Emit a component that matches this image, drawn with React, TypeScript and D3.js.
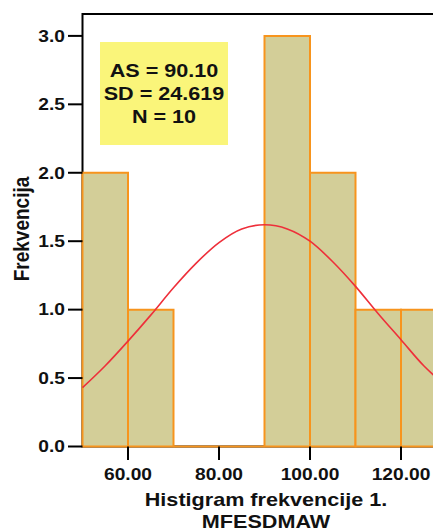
import React from "react";
import * as d3 from "d3";

// histogram bins (lower edges, width 10) and counts
const binStarts = [50, 60, 70, 80, 90, 100, 110, 120];
const binWidth = 10;
const counts = [2, 1, 0, 0, 3, 2, 1, 1];

// fitted normal curve
const curveX = [50, 55, 60, 65, 70, 75, 80, 85, 90, 95, 100, 105, 110, 115, 120, 125, 130, 135, 140];
const curveY = [0.43, 0.59, 0.77, 0.96, 1.16, 1.34, 1.49, 1.59, 1.62, 1.59, 1.5, 1.35, 1.17, 0.97, 0.78, 0.59, 0.44, 0.31, 0.21];

const yTicks = [0, 0.5, 1, 1.5, 2, 2.5, 3];
const xTicks = [60, 80, 100, 120];
const statLines = ["AS = 90.10", "SD = 24.619", "N = 10"];

const W = 433;
const H = 531;
const SX = 1.2; // the original's type is stretched sideways
const font = "'Liberation Sans', Arial, sans-serif";

const App = () => {
  const x = d3.scaleLinear().domain([50, 130]).range([82.5, 446.5]);
  const y = d3.scaleLinear().domain([0, 3.16]).range([446.5, 14]);

  const line = d3
    .line<number>()
    .x((d, i) => x(curveX[i]))
    .y((d) => y(d))
    .curve(d3.curveMonotoneX);

  const barPath = (start: number, c: number) => {
    const p = d3.path();
    p.moveTo(x(start), y(0));
    p.lineTo(x(start), y(c));
    p.lineTo(x(start + binWidth), y(c));
    p.lineTo(x(start + binWidth), y(0));
    p.closePath();
    return p.toString();
  };

  return (
    <div>
      <svg
        width={W}
        height={H}
        style={{ position: "absolute", left: 0, top: 0, background: "#fff" }}
        fontFamily={font}
        fontWeight="bold"
      >
        {/* plot frame */}
        <rect
          x={x(50)}
          y={y(3.16)}
          width={x(130) - x(50)}
          height={y(0) - y(3.16)}
          fill="none"
          stroke="#000"
          strokeWidth={2}
        />

        {/* bars */}
        {binStarts.map((s, i) => (
          <path
            key={s}
            d={barPath(s, counts[i])}
            fill="#d3ce98"
            stroke="#f7941d"
            strokeWidth={2}
          />
        ))}

        {/* normal curve */}
        <path d={line(curveY) || ""} fill="none" stroke="#ee2f3a" strokeWidth={1.6} />

        {/* y axis */}
        {yTicks.map((t) => (
          <g key={t}>
            <line x1={68} x2={x(50)} y1={y(t)} y2={y(t)} stroke="#000" strokeWidth={2} />
            <text
              transform={`translate(65,${y(t) + 5.8}) scale(${SX},1)`}
              textAnchor="end"
              fontSize={16}
              fill="#111"
            >
              {t.toFixed(1)}
            </text>
          </g>
        ))}

        {/* x axis */}
        {xTicks.map((t) => (
          <g key={t}>
            <line x1={x(t)} x2={x(t)} y1={y(0)} y2={460} stroke="#000" strokeWidth={2} />
            <text
              transform={`translate(${x(t)},480) scale(${SX},1)`}
              textAnchor="middle"
              fontSize={16}
              fill="#111"
            >
              {t.toFixed(2)}
            </text>
          </g>
        ))}

        {/* axis titles */}
        <text
          transform={`translate(266,506) scale(${SX},1)`}
          textAnchor="middle"
          fontSize={18}
          fill="#111"
        >
          Histigram frekvencije 1.
        </text>
        <text
          transform={`translate(266,528) scale(${SX},1)`}
          textAnchor="middle"
          fontSize={18}
          fill="#111"
        >
          MFESDMAW
        </text>
        <text
          transform={`translate(29,229) scale(${SX},1) rotate(-90)`}
          textAnchor="middle"
          fontSize={19}
          fill="#111"
        >
          Frekvencija
        </text>

        {/* stats box */}
        <rect x={100} y={42} width={128} height={103} fill="#faf57a" />
        {statLines.map((s, i) => (
          <text
            key={s}
            transform={`translate(164,${77 + i * 23}) scale(${SX},1)`}
            textAnchor="middle"
            fontSize={18}
            fill="#111"
          >
            {s}
          </text>
        ))}
      </svg>
    </div>
  );
};

export default App;
